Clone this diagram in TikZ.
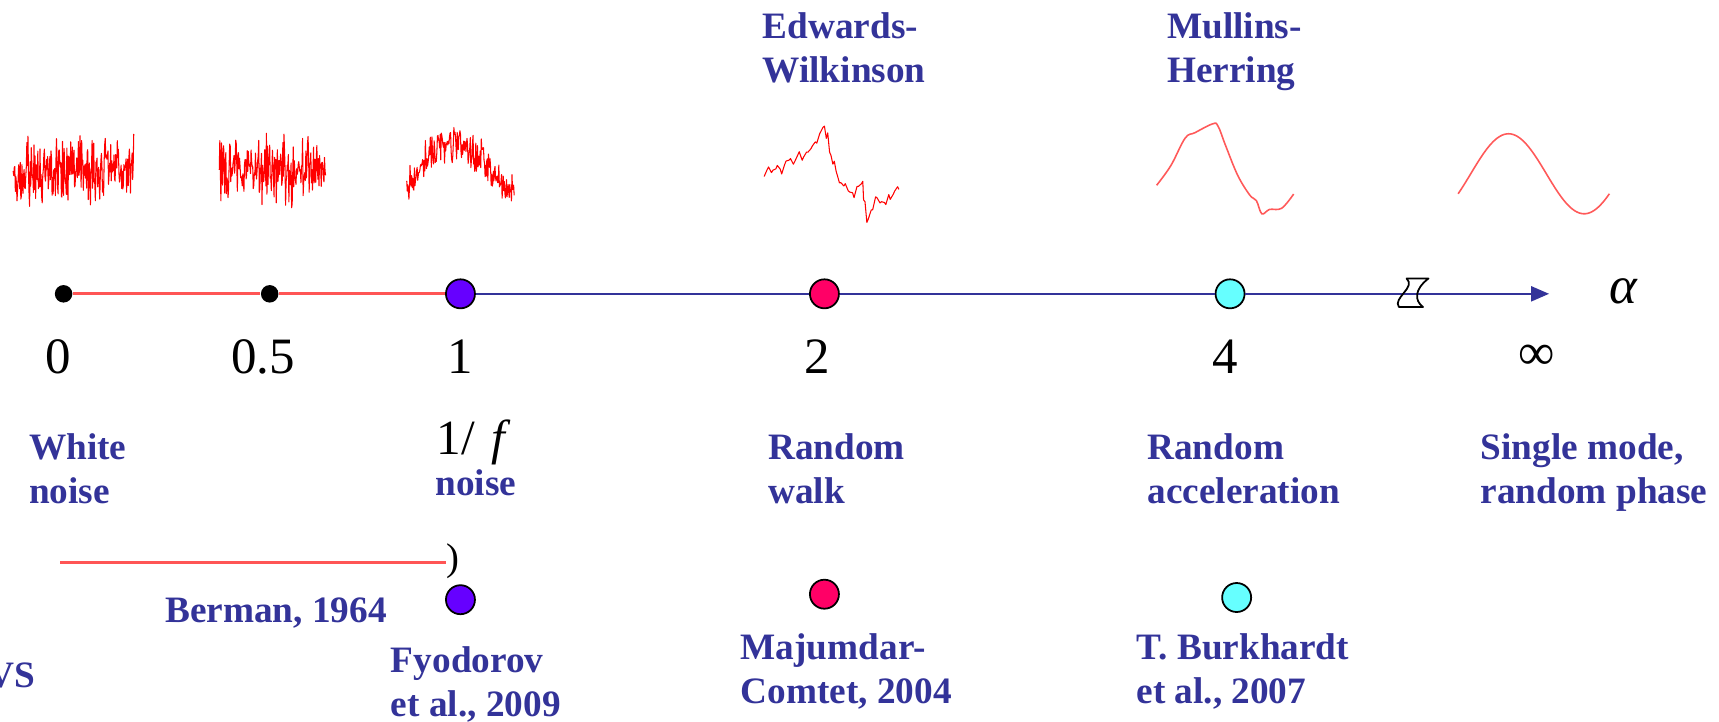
\documentclass[tikz,border=0pt]{standalone}
\usepackage{fontspec}
\setmainfont{Liberation Serif}
\usetikzlibrary{arrows.meta,positioning,shapes.geometric}
\definecolor{labelblue}{RGB}{51,51,153}
\definecolor{redline}{RGB}{255,85,85}
\definecolor{violetpt}{RGB}{102,0,255}
\definecolor{pinkpt}{RGB}{255,0,102}
\definecolor{cyanpt}{RGB}{102,255,255}

\begin{document}
\begin{tikzpicture}[
  x=0.1096mm, y=-0.1096mm,
  lbl/.style={font=\bfseries\fontsize{10.6}{12.5}\selectfont, text=labelblue, align=left, inner sep=0pt, anchor=north west},
  num/.style={font=\fontsize{14.5}{17}\selectfont, inner sep=0pt, anchor=base},
  blackdot/.style={circle, fill=black, minimum size=1.75mm, inner sep=0pt},
  alphapt/.style={circle, draw=black, line width=0.5pt, minimum size=2.9mm, inner sep=0pt},
  axisline/.style={-{Triangle[length=1.8mm,width=1.5mm]}, draw=labelblue, line width=0.6pt},
  redseg/.style={draw=redline, line width=0.9pt},
  noisy/.style={draw=red, line width=0.3pt, line join=round},
  smoothtrace/.style={draw=red!65, line width=0.45pt},
  brk/.style={draw=black, line width=0.5pt, line join=round}
]
\useasboundingbox (0,0) rectangle (1568,658);

% sample signals
\pgfmathsetseed{11}
\draw[noisy] (12,156) \foreach \i in {1,...,220} { -- ({12+0.5*\i},{156+22*rand+16*rand}) };
\pgfmathsetseed{23}
\draw[noisy] (200,155) \foreach \i in {1,...,194} { -- ({200+0.5*\i},{155+21*rand+15*rand}) };
\pgfmathsetseed{37}
\draw[noisy] (371,165) \foreach \i in {1,...,196} { -- ({371+0.5*\i},{158-28*sin(1.28*\i-20)+11*rand+10*rand}) };
\pgfmathsetseed{5}
\draw[noisy] (697,161) \foreach \px/\py in {701/155, 705/158, 709/152, 713/156, 717/149, 721/146,
  725/150, 729/140, 733/144, 737/138, 741/134, 745/128, 749/120, 752/115, 755/124, 758/140, 761/150, 764/158,
  767/166, 771/170, 775/173, 779/178, 783/172, 787/168, 789/185, 792/200, 796/190, 800/178, 804/186, 808/184,
  812/180, 816/176, 820/172} { -- ({\px-1.3},{\py+3*rand}) -- ({\px},{\py+3*rand}) };
\draw[smoothtrace] plot[smooth, tension=0.6] coordinates {(1055,169) (1068,151) (1081,126) (1090,121) (1106,113)
  (1111,115) (1118,133) (1129,160) (1140,178) (1146,183) (1151,195) (1158,191) (1169,190) (1180,177)};
\draw[smoothtrace] plot[domain=1330:1468, samples=70] (\x,{158.5-36.5*sin(90+(\x-1376)*2.609)});

% top labels
\node[lbl] (ew) at (695,11) {Edwards-\\Wilkinson};
\node[lbl] (mh) at (1064,11) {Mullins-\\Herring};

% alpha axis
\node[blackdot] (a0) at (58,268) {};
\node[blackdot] (a05) at (246,268) {};
\node[alphapt, fill=violetpt] (a1) at (420,268) {};
\node[alphapt, fill=pinkpt] (a2) at (752,268) {};
\node[alphapt, fill=cyanpt] (a4) at (1122,268) {};
\coordinate (tip) at (1413,268);
\draw[redseg] (a0) -- (a05) -- (a1);
\draw[axisline] (a1) -- (a2) -- (a4) -- (tip);
\draw[brk] (1283,254) -- (1303,254) .. controls (1290,264) and (1290,274) .. (1298,280) -- (1276,280)
  .. controls (1270,272) and (1292,262) .. cycle;
\node[font=\itshape\fontsize{15}{18}\selectfont, inner sep=0pt] (alph) at (1481,266) {α};

% values
\node[num] (n0) at (53,341) {0};
\node[num] (n05) at (240,341) {0.5};
\node[num] (n1) at (420,341) {1};
\node[num] (n2) at (745,341) {2};
\node[num] (n4) at (1118,341) {4};
\node[num] (ninf) at (1402,337) {∞};

% regimes
\node[lbl] (white) at (26,395) {White\\noise};
\node[num, font=\fontsize{14}{17}\selectfont] (onef) at (432,415) {1/\,\,\textit{f}};
\node[lbl, anchor=base] (fnoise) at (434,452) {noise};
\node[lbl] (rwalk) at (700,395) {Random\\walk};
\node[lbl] (racc) at (1046,395) {Random\\acceleration};
\node[lbl] (single) at (1350,395) {Single mode,\\random phase};

% known results
\coordinate (b0) at (55,513);
\node[inner sep=0pt, font=\fontsize{11}{13}\selectfont] (paren) at (413,512) {)};
\draw[redseg] (b0) -- (b0 -| paren.west);
\node[lbl] (berman) at (150,545) {Berman, 1964};
\node[alphapt, fill=violetpt] (r1) at (420,547) {};
\node[lbl] (fyod) at (356,589) {Fyodorov\\et al., 2009};
\node[alphapt, fill=pinkpt] (r2) at (752,542) {};
\node[lbl] (maj) at (675,577) {Majumdar-\\Comtet, 2004};
\node[alphapt, fill=cyanpt] (r4) at (1128,545) {};
\node[lbl] (burk) at (1036,577) {T. Burkhardt\\et al., 2007};
\node[lbl, anchor=north east] (vs) at (33,604) {VS};
\end{tikzpicture}
\end{document}
